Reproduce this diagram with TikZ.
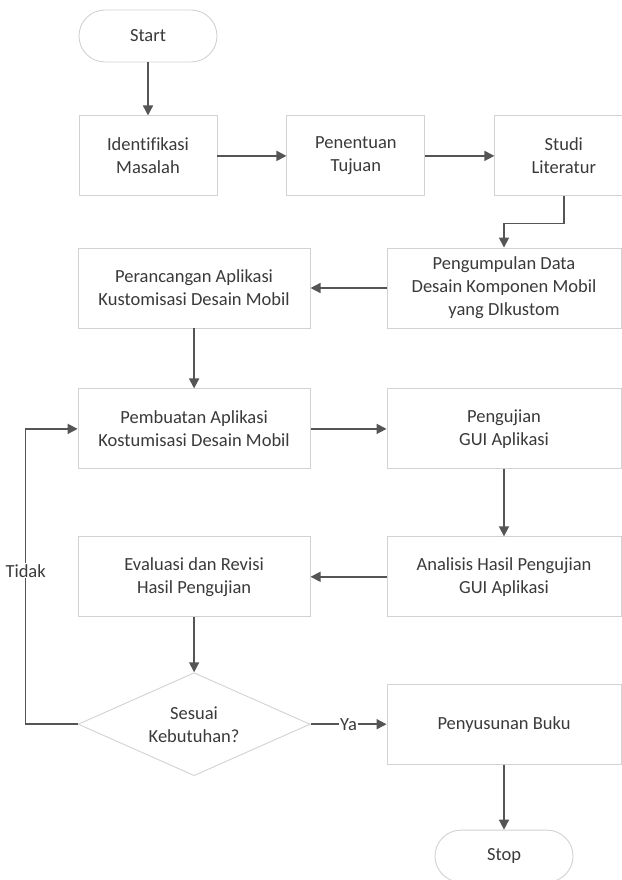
\documentclass[tikz,border=0pt]{standalone}
\usepackage{fontspec}
\setmainfont{Carlito}[Ligatures={NoCommon}]
\usepackage{xcolor}
\usepackage{tikz}
\usetikzlibrary{positioning,arrows.meta,shapes.geometric}
\definecolor{ink}{HTML}{3A3A3A}
\definecolor{rim}{HTML}{D2D2D2}
\definecolor{wire}{HTML}{555555}
\newcommand{\boxfont}{\fontsize{18.5}{23}\selectfont}
\tikzset{
  proc/.style    = {rectangle, draw=rim, fill=white, line width=0.9pt, minimum width=#1,
                    minimum height=80pt, inner sep=4pt, align=center, text=ink, font=\boxfont},
  proc/.default  = 138pt,
  term/.style    = {rectangle, rounded corners=26pt, draw=rim, fill=white, line width=0.9pt,
                    minimum width=138pt, minimum height=52pt, text=ink, font=\boxfont},
  decide/.style  = {diamond, aspect=2.25, draw=rim, fill=white, line width=0.9pt, inner sep=0pt,
                    minimum width=232pt, minimum height=103pt, align=center, text=ink, font=\boxfont},
  flow/.style    = {-{Triangle[length=10pt,width=10pt]}, line width=1.6pt, draw=wire},
  tag/.style     = {fill=white, inner sep=1pt, text=ink, font=\boxfont},
}

\begin{document}
\begin{tikzpicture}[x=1pt, y=1pt]
  \useasboundingbox (0,0) rectangle (621,-880);
  \node[term] (start) at (148,-36) {Start};
  \node[proc, below=53pt of start] (ident) {Identifikasi\\Masalah};
  \node[proc, right=69pt of ident] (tuju) {Penentuan\\Tujuan};
  \node[proc, right=69pt of tuju] (studi) {Studi\\Literatur};
  \node[proc=234pt] (kumpul) at (504,-288) {Pengumpulan Data\\Desain Komponen Mobil\\yang DIkustom};
  \node[proc=232pt, left=76pt of kumpul] (rancang) {Perancangan Aplikasi\\Kustomisasi Desain Mobil};
  \node[proc=232pt, below=60pt of rancang] (buat) {Pembuatan Aplikasi\\Kostumisasi Desain Mobil};
  \node[proc=234pt, right=76pt of buat] (uji) {Pengujian\\GUI Aplikasi};
  \node[proc=234pt, below=67pt of uji] (analisis) {Analisis Hasil Pengujian\\GUI Aplikasi};
  \node[proc=232pt, left=76pt of analisis] (evaluasi) {Evaluasi dan Revisi\\Hasil Pengujian};
  \node[decide, below=55pt of evaluasi] (cek) {Sesuai\\Kebutuhan?};
  \node[proc=234pt, right=76pt of cek] (susun) {Penyusunan Buku};
  \node[term, below=65pt of susun] (stop) {Stop};

  \draw[flow] (start) -- (ident);
  \draw[flow] (ident) -- (tuju);
  \draw[flow] (tuju) -- (studi);
  \draw[flow] (studi.south) -- ++(0,-27) -| (kumpul.north);
  \draw[flow] (kumpul) -- (rancang);
  \draw[flow] (rancang) -- (buat);
  \draw[flow] (buat) -- (uji);
  \draw[flow] (uji) -- (analisis);
  \draw[flow] (analisis) -- (evaluasi);
  \draw[flow] (evaluasi) -- (cek);
  \draw[flow] (cek) -- node[tag] {Ya} (susun);
  \draw[flow] (cek.west) -- ++(-52,0) |- node[tag, pos=0.26] {Tidak} (buat.west);
  \draw[flow] (susun) -- (stop);
\end{tikzpicture}
\end{document}
